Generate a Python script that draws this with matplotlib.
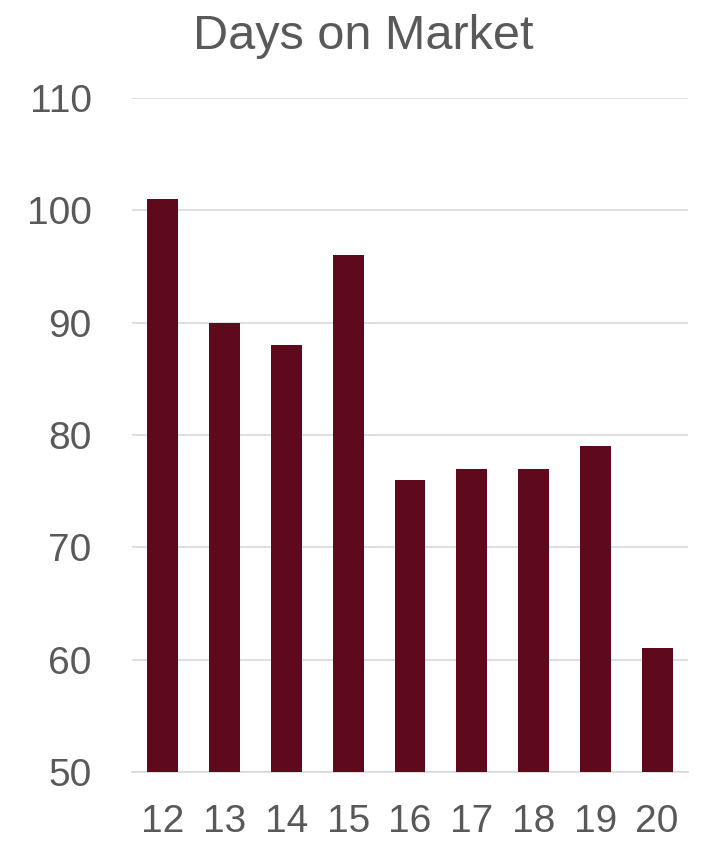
import matplotlib
matplotlib.use("Agg")
import matplotlib.pyplot as plt

categories = ["12", "13", "14", "15", "16", "17", "18", "19", "20"]
values = [101, 90, 88, 96, 76, 77, 77, 79, 61]
yticks = [50, 60, 70, 80, 90, 100, 110]

plt.rcParams['font.family'] = ['Liberation Sans', 'DejaVu Sans']
text_color = '#595959'

fig = plt.figure(figsize=(7.05, 8.41), dpi=100)
ax = fig.add_axes([132/705, 1-772/841, 556/705, (772-98)/841])
x = range(len(categories))
ax.bar(x, values, width=0.5, color='#5E0A1C', zorder=3)
ax.set_ylim(50, 110)
ax.set_xlim(-0.5, len(categories)-0.5)
ax.set_yticks(yticks)
ax.set_xticks(list(x))
ax.set_xticklabels(categories)
ax.grid(axis='y', color='#D9D9D9', linewidth=1.2, zorder=0)
for s in ['top', 'right', 'left']:
    ax.spines[s].set_visible(False)
ax.spines['bottom'].set_color('#D9D9D9')
ax.spines['bottom'].set_linewidth(1.2)
ax.tick_params(axis='both', length=0, labelsize=28, labelcolor=text_color)
ax.tick_params(axis='y', pad=29)
ax.tick_params(axis='x', pad=23)
fig.text(363/705, 1-49/841, "Days on Market", ha='center', va='baseline',
         fontsize=35, color=text_color)
fig.savefig("out.png", dpi=100)
